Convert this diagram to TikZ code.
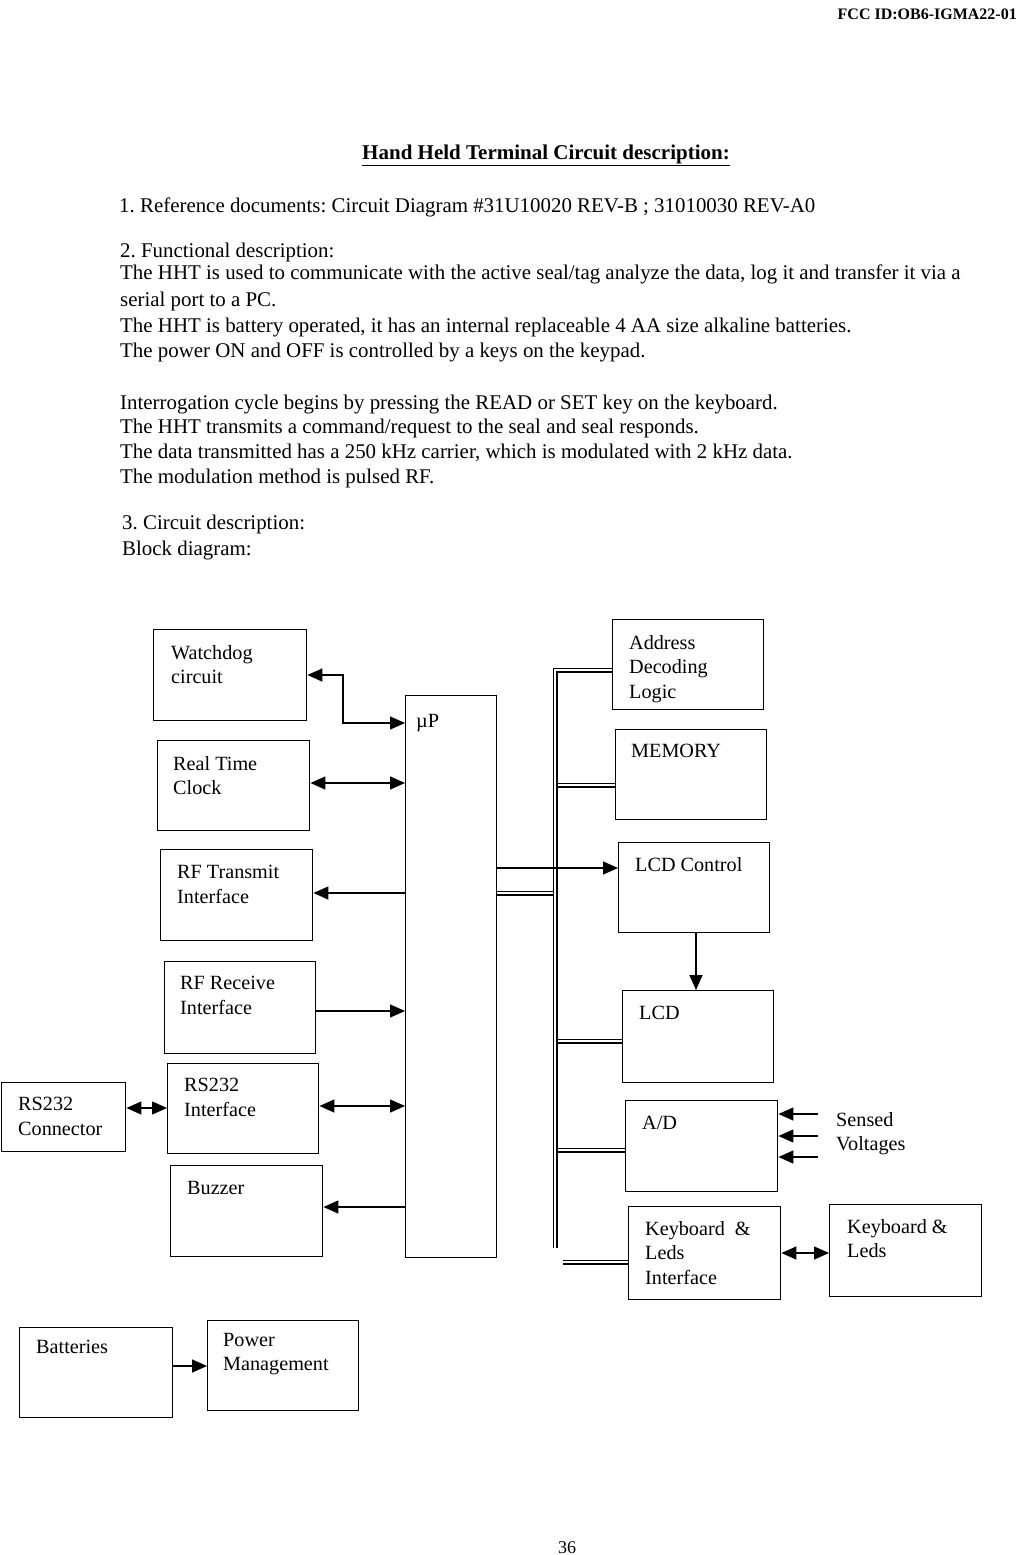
\documentclass[tikz,border=0pt]{standalone}
\usepackage{fontspec}
\setmainfont{Liberation Serif}
\usetikzlibrary{arrows.meta,calc}
\frenchspacing
\begin{document}
\begin{tikzpicture}[x=1pt,y=-1pt,
  box/.style={draw, line width=1.4pt, inner sep=0pt, anchor=north west},
  lbl/.style={anchor=north west, inner sep=0pt, align=left, font=\fontsize{20.2}{24.5}\selectfont},
  body/.style={anchor=base west, inner sep=0pt, font=\fontsize{20.9}{24}\selectfont},
  ln/.style={line width=1.4pt},
  tip/.style={ln, -{Triangle[length=15pt,width=13pt]}},
  dtip/.style={ln, {Triangle[length=15pt,width=13pt]}-{Triangle[length=15pt,width=13pt]}},
  busline/.style={line width=1.2pt, double, double distance=2.6pt}
]
\path[use as bounding box, fill=white] (0,0) rectangle (1018,1555);

% header and text
\node[anchor=base east, inner sep=0pt, font=\bfseries\fontsize{16}{18}\selectfont] (hdr) at (1017,20) {FCC ID:OB6-IGMA22-01};
\node[anchor=base, inner sep=0pt, font=\bfseries\fontsize{21}{24}\selectfont] (title) at (546,159) {\underline{Hand Held Terminal Circuit description:}};
\node[body] (t1) at (119,212) {1. Reference documents: Circuit Diagram \#31U10020 REV-B ; 31010030 REV-A0};
\node[body] (t2) at (120,257) {2. Functional description:};
\node[body] (t3) at (120,279) {The HHT is used to communicate with the active seal/tag analyze the data, log it and transfer it via a};
\node[body] (t4) at (120,306) {serial port to a PC.};
\node[body] (t5) at (120,332) {The HHT is battery operated, it has an internal replaceable 4 AA size alkaline batteries.};
\node[body] (t6) at (120,357) {The power ON and OFF is controlled by a keys on the keypad.};
\node[body] (t7) at (120,409) {Interrogation cycle begins by pressing the READ or SET key on the keyboard.};
\node[body] (t8) at (120,433) {The HHT transmits a command/request to the seal and seal responds.};
\node[body] (t9) at (120,458) {The data transmitted has a 250 kHz carrier, which is modulated with 2 kHz data.};
\node[body] (t10) at (120,483) {The modulation method is pulsed RF.};
\node[body] (t11) at (122,529) {3. Circuit description:};
\node[body] (t12) at (122,555) {Block diagram:};
\node[anchor=base, inner sep=0pt, font=\fontsize{18}{20}\selectfont] (pg) at (567,1553) {36};

% left blocks
\node[box, minimum width=153pt, minimum height=91pt] (wd) at (153,629) {};
\node[lbl] (wdT) at (171,645) {Watchdog\\circuit};
\node[box, minimum width=152pt, minimum height=90pt] (rtc) at (157,740) {};
\node[lbl] (rtcT) at (173,756) {Real Time\\Clock};
\node[box, minimum width=152pt, minimum height=91pt] (rft) at (160,849) {};
\node[lbl] (rftT) at (177,865) {RF Transmit\\Interface};
\node[box, minimum width=151pt, minimum height=92pt] (rfr) at (164,961) {};
\node[lbl] (rfrT) at (180,976) {RF Receive\\Interface};
\node[box, minimum width=151pt, minimum height=90pt] (rsi) at (167,1063) {};
\node[lbl] (rsiT) at (184,1078) {RS232\\Interface};
\node[box, minimum width=152pt, minimum height=91pt] (buz) at (170,1165) {};
\node[lbl] (buzT) at (187,1181) {Buzzer};
\node[box, minimum width=124pt, minimum height=69pt] (rsc) at (1,1082) {};
\node[lbl] (rscT) at (18,1097) {RS232\\Connector};

% microprocessor
\node[box, minimum width=91pt, minimum height=562pt] (up) at (405,695) {};
\node[lbl] (upT) at (416,714) {µP};

% right blocks
\node[box, minimum width=151pt, minimum height=90pt] (adl) at (612,619) {};
\node[lbl] (adlT) at (629,635) {Address\\Decoding\\Logic};
\node[box, minimum width=151pt, minimum height=90pt] (mem) at (615,729) {};
\node[lbl] (memT) at (631,744) {MEMORY};
\node[box, minimum width=151pt, minimum height=90pt] (lcdc) at (618,842) {};
\node[lbl] (lcdcT) at (635,857) {LCD Control};
\node[box, minimum width=151pt, minimum height=92pt] (lcd) at (622,990) {};
\node[lbl] (lcdT) at (639,1006) {LCD};
\node[box, minimum width=152pt, minimum height=91pt] (ad) at (625,1100) {};
\node[lbl] (adT) at (642,1116) {A/D};
\node[box, minimum width=152pt, minimum height=93pt] (kbi) at (628,1206) {};
\node[lbl] (kbiT) at (645,1221) {Keyboard~~\&\\Leds\\Interface};
\node[box, minimum width=152pt, minimum height=92pt] (kb) at (829,1204) {};
\node[lbl] (kbT) at (847,1219) {Keyboard \&\\Leds};
\node[lbl] (svT) at (836,1112) {Sensed\\Voltages};

% power
\node[box, minimum width=153pt, minimum height=90pt] (bat) at (19,1327) {};
\node[lbl] (batT) at (36,1340) {Batteries};
\node[box, minimum width=151pt, minimum height=90pt] (pm) at (207,1320) {};
\node[lbl] (pmT) at (223,1333) {Power\\Management};

% left connectors
\coordinate (wdb) at (343,723);
\draw[dtip] (wd.east |- 0,675) -| (wdb) -- (up.west |- wdb);
\draw[dtip] (rtc.east |- 0,783) -- (up.west |- 0,783);
\draw[tip] (up.west |- 0,893) -- (rft.east |- 0,893);
\draw[tip] (rfr.east |- 0,1011) -- (up.west |- 0,1011);
\draw[dtip] (rsi.east |- 0,1106) -- (up.west |- 0,1106);
\draw[tip] (up.west |- 0,1207) -- (buz.east |- 0,1207);
\draw[dtip] (rsc.east |- 0,1108) -- (rsi.west |- 0,1108);

% bus
\coordinate (busTop) at (555,670);
\coordinate (busBot) at (555,1248);
\coordinate (busR) at (557.5,0);
\coordinate (busL) at (552.5,0);
\coordinate (kbiStub) at (563,1262);
\draw[busline] (adl.west |- busTop) -- (busTop) -- (busBot);
\draw[busline] (busR |- 0,785) -- (mem.west |- 0,785);
\draw[busline] (up.east |- 0,893) -- (busL |- 0,893);
\draw[busline] (busR |- 0,1041) -- (lcd.west |- 0,1041);
\draw[busline] (busR |- 0,1150) -- (ad.west |- 0,1150);
\draw[busline] (kbiStub) -- (kbi.west |- kbiStub);
\draw[tip] (up.east |- 0,868) -- (lcdc.west |- 0,868);
\draw[tip] (lcdc.south -| 696,0) -- (lcd.north -| 696,0);

% sensed voltages
\coordinate (sv1) at (818,1114);
\coordinate (sv2) at (818,1136);
\coordinate (sv3) at (818,1157);
\draw[tip] (sv1) -- (ad.east |- sv1);
\draw[tip] (sv2) -- (ad.east |- sv2);
\draw[tip] (sv3) -- (ad.east |- sv3);

% keyboard and power
\draw[dtip] (kbi.east |- 0,1253) -- (kb.west |- 0,1253);
\draw[tip] (bat.east |- 0,1366) -- (pm.west |- 0,1366);
\end{tikzpicture}
\end{document}
